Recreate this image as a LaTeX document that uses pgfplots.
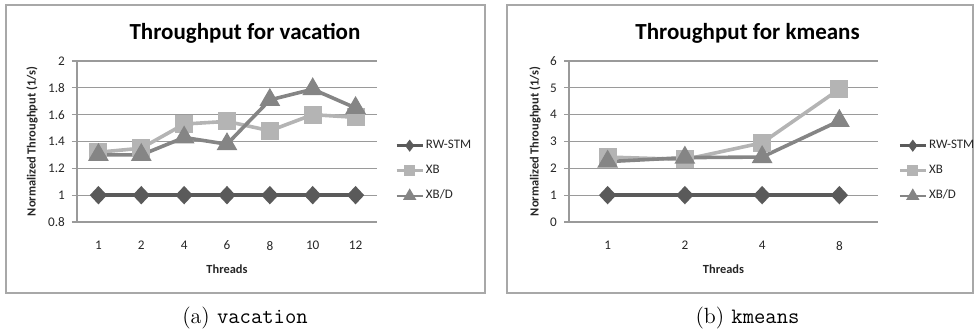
\documentclass[border=0pt]{standalone}
\usepackage{fontspec}
\usepackage{pgfplots}
\pgfplotsset{compat=1.18}
\newfontfamily\calibri{Carlito}
\definecolor{cRW}{HTML}{5A5A5A}
\definecolor{cXB}{HTML}{B4B4B4}
\definecolor{cXBD}{HTML}{858585}
\definecolor{cFrame}{HTML}{A8A8A8}
\definecolor{cGrid}{HTML}{9A9A9A}
\pgfplotsset{
  excel/.style={
    scale only axis,
    axis lines*=left,
    axis line style={cGrid,-,line width=0.6pt},
    ymajorgrids,
    grid style={cGrid,line width=0.6pt},
    tick align=outside,
    major tick length=2.5pt,
    minor tick length=2.5pt,
    tick style={cGrid,line width=0.6pt},
    x tick style={draw=none},
    minor x tick style={cGrid,line width=0.6pt},
    /pgf/number format/assume math mode=true,
    ticklabel style={font=\calibri\fontsize{6.6}{8}\selectfont, text=black!85},
    xticklabel style={yshift=-3.5pt},
    title style={font=\calibri\bfseries\fontsize{11.5}{13}\selectfont, anchor=center},
    xlabel={Threads},
    ylabel={Normalized Throughput (1/s)},
    label style={font=\calibri\bfseries\fontsize{6.2}{7.5}\selectfont, text=black!85},
    xlabel style={at={(axis description cs:0.5,0)}, anchor=center, yshift=-23.5pt},
    legend style={draw=none, fill=none, inner sep=0pt, row sep=4.8pt,
      font=\calibri\fontsize{6.5}{8}\selectfont, text=black!85,
      legend cell align=left, anchor=west, nodes={inner sep=1pt}},
    legend image code/.code={\draw[line width=1.3pt, mark repeat=2,mark phase=2, mark options={scale=0.6}] plot coordinates {(0pt,0pt)(6.5pt,0pt)(13pt,0pt)};},
    every axis plot/.append style={line width=1.8pt},
  },
  rw/.style={cRW, mark=diamond*, mark size=3.3pt, mark options={solid, xscale=1.25}},
  xb/.style={cXB, mark=square*, mark size=3.6pt, mark options={solid}},
  xbd/.style={cXBD, mark=triangle*, mark size=4.2pt, mark options={solid}},
}
\begin{document}
\begin{tikzpicture}
\path[use as bounding box] (0pt,0pt) rectangle (487.5pt,-166pt);
\draw[cFrame, line width=0.7pt] (3pt,-2.5pt) rectangle (242.5pt,-146.5pt);
\draw[cFrame, line width=0.7pt] (253.5pt,-2.5pt) rectangle (486.5pt,-146.5pt);

\begin{axis}[excel,
  at={(38.5pt,-111pt)}, anchor=south west,
  width=150pt, height=80.5pt,
  xmin=-0.5, xmax=6.5, ymin=0.8, ymax=2,
  xtick={0,...,6}, xticklabels={1,2,4,6,8,10,12},
  minor xtick={-0.5,0.5,...,6.5},
  ytick={0.8,1,1.2,1.4,1.6,1.8,2},
  yticklabels={0.8,1,1.2,1.4,1.6,1.8,2},
  title={Throughput for vacation},
  title style={at={(axis description cs:0.56,1)}, yshift=8pt},
  ylabel style={at={(axis description cs:-0.15,0.5)}, anchor=center},
  legend style={at={(axis description cs:1.06,0.317)}},
]
\addplot[rw] coordinates {(0,1)(1,1)(2,1)(3,1)(4,1)(5,1)(6,1)};
\addlegendentry{RW-STM}
\addplot[xb] coordinates {(0,1.32)(1,1.35)(2,1.53)(3,1.55)(4,1.48)(5,1.60)(6,1.58)};
\addlegendentry{XB}
\addplot[xbd] coordinates {(0,1.30)(1,1.30)(2,1.43)(3,1.38)(4,1.71)(5,1.79)(6,1.65)};
\addlegendentry{XB/D}
\end{axis}

\begin{axis}[excel,
  at={(284.5pt,-111pt)}, anchor=south west,
  width=154.5pt, height=80.5pt,
  xmin=-0.5, xmax=3.5, ymin=0, ymax=6,
  xtick={0,...,3}, xticklabels={1,2,4,8},
  minor xtick={-0.5,0.5,...,3.5},
  ytick={0,1,2,3,4,5,6},
  title={Throughput for kmeans},
  title style={at={(axis description cs:0.578,1)}, yshift=8pt},
  ylabel style={at={(axis description cs:-0.11,0.5)}, anchor=center},
  legend style={at={(axis description cs:1.065,0.317)}},
]
\addplot[rw] coordinates {(0,1)(1,1)(2,1)(3,1)};
\addlegendentry{RW-STM}
\addplot[xb] coordinates {(0,2.42)(1,2.33)(2,2.95)(3,4.95)};
\addlegendentry{XB}
\addplot[xbd] coordinates {(0,2.25)(1,2.40)(2,2.42)(3,3.77)};
\addlegendentry{XB/D}
\end{axis}

\node[font=\fontsize{11}{13}\selectfont] at (122.5pt,-159pt) {(a) \texttt{vacation}};
\node[font=\fontsize{11}{13}\selectfont] at (373.75pt,-159pt) {(b) \texttt{kmeans}};
\end{tikzpicture}
\end{document}
